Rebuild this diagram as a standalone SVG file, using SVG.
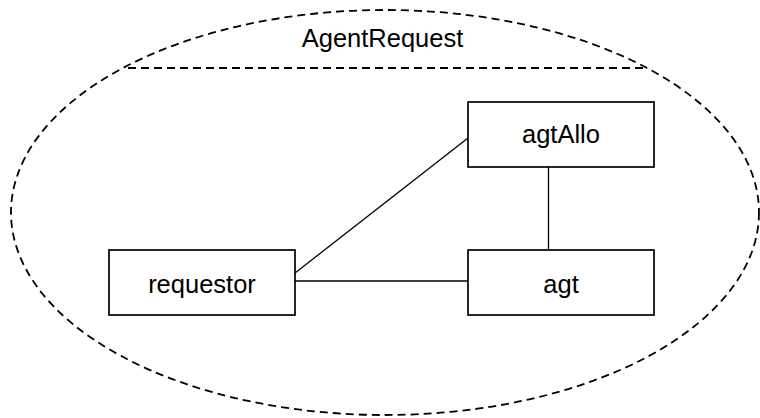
<svg xmlns="http://www.w3.org/2000/svg" width="760" height="418" viewBox="0 0 760 418">
  <style>
    .frame { fill: none; stroke: #000; stroke-width: 1.8; stroke-dasharray: 8 5; }
    .box { fill: #fff; stroke: #000; stroke-width: 1.7; }
    .link { stroke: #000; stroke-width: 1.3; fill: none; }
    .label { font-family: "Liberation Sans", Arial, sans-serif; font-size: 25.5px; fill: #000; text-anchor: middle; }
  </style>
  <rect width="760" height="418" fill="#fff"/>

  <!-- collaboration boundary with its name compartment -->
  <g id="collaboration">
    <ellipse class="frame" cx="385" cy="212.5" rx="374" ry="202.5"/>
    <line class="frame" x1="128" y1="68" x2="643" y2="68"/>
    <text class="label" x="382.5" y="47">AgentRequest</text>
  </g>

  <!-- connectors -->
  <g id="connectors">
    <line class="link" x1="295" y1="273" x2="468" y2="138"/>
    <line class="link" x1="295" y1="281" x2="468" y2="281"/>
    <line class="link" x1="548.5" y1="167" x2="548.5" y2="250"/>
  </g>

  <g id="agtAllo">
    <rect class="box" x="468" y="102" width="186" height="65"/>
    <text class="label" x="561" y="143">agtAllo</text>
  </g>

  <g id="requestor">
    <rect class="box" x="109" y="250" width="186" height="65"/>
    <text class="label" x="202" y="293">requestor</text>
  </g>

  <g id="agt">
    <rect class="box" x="468" y="250" width="186" height="65"/>
    <text class="label" x="561" y="293">agt</text>
  </g>
</svg>
